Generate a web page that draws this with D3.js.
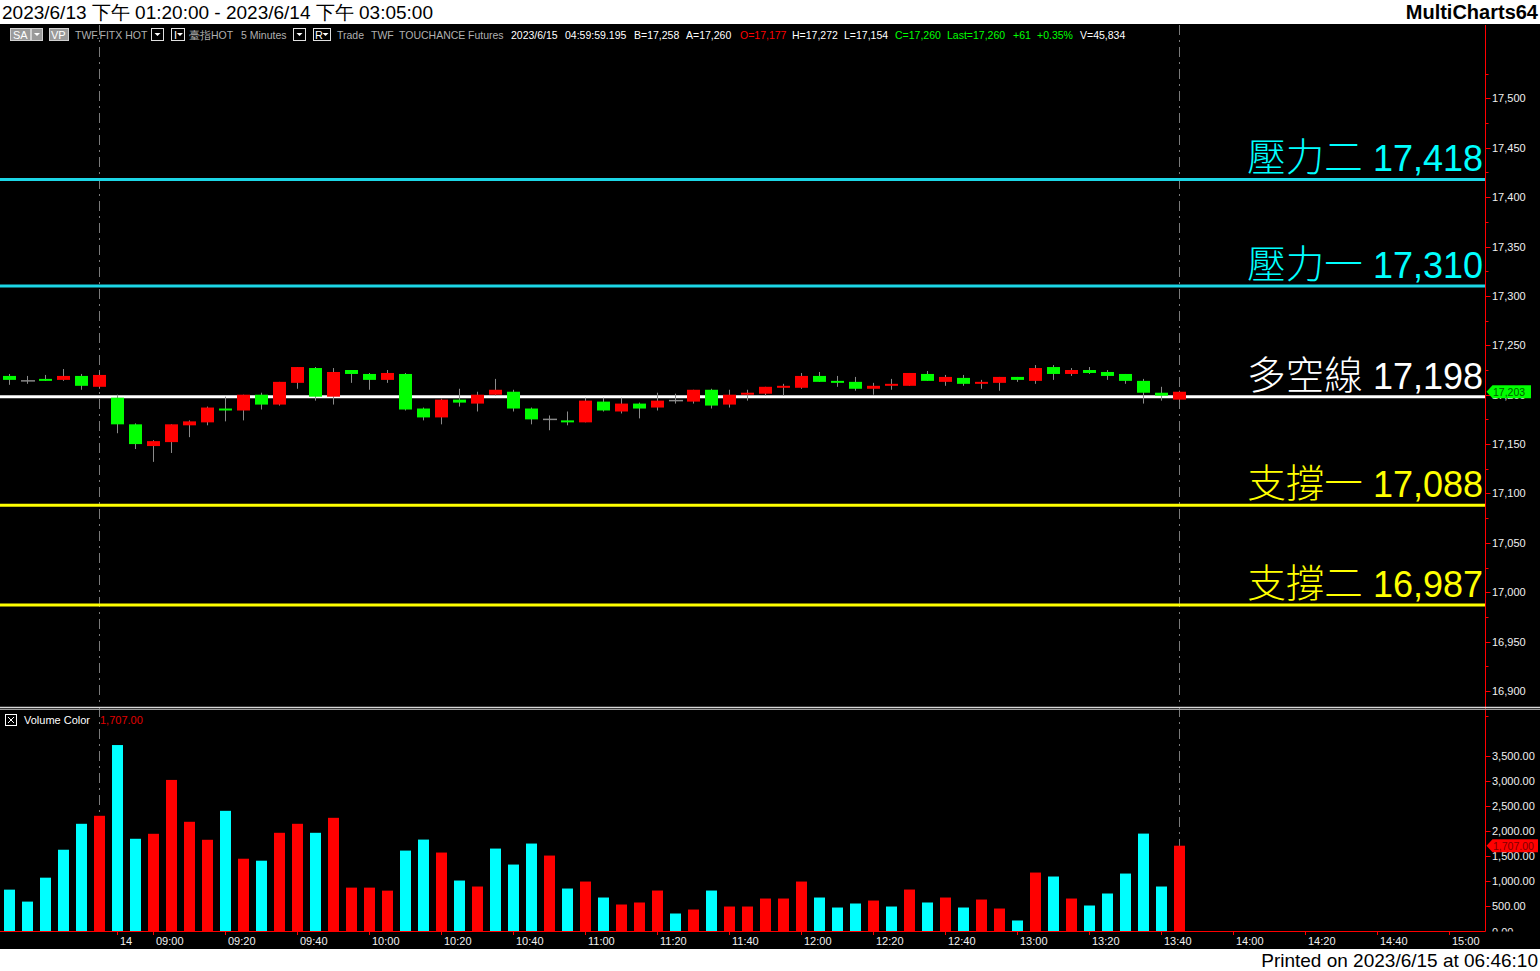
<!DOCTYPE html>
<html><head><meta charset="utf-8">
<script src="https://cdn.jsdelivr.net/npm/d3@7"></script>
<style>
html,body{margin:0;padding:0;background:#000;overflow:hidden}
svg{display:block}
text{font-family:"Liberation Sans",Arial,sans-serif}
</style></head>
<body>
<svg id="chart" width="1540" height="971"></svg>
<script>
// ---------- DATA ----------
const opens  = [17219,17214,17216,17215,17219,17208,17197,17170,17148,17152,17169,17172,17186,17184,17200,17190,17212,17227,17198,17225,17221,17215,
                17221,17186,17177,17195,17191,17200,17203,17186,17175,17174,17172,17193,17183,17191,17187,17194,17193,17205,17190,17200,17201,17207,
                17207,17219,17214,17213,17206,17209,17209,17221,17213,17217,17211,17212,17218,17214,17228,17221,17225,17223,17221,17214,17202,17195];
const highs  = [17221,17219,17220,17226,17221,17223,17200,17171,17154,17170,17174,17188,17198,17200,17202,17213,17228,17228,17227,17225,17222,17225,
                17222,17187,17196,17206,17203,17216,17205,17187,17179,17183,17197,17197,17197,17192,17202,17201,17205,17206,17205,17205,17208,17211,
                17222,17223,17219,17218,17212,17216,17222,17224,17220,17220,17215,17218,17218,17230,17230,17227,17228,17225,17221,17216,17208,17204];
const lows   = [17210,17211,17214,17214,17205,17206,17161,17145,17132,17141,17157,17169,17173,17174,17185,17189,17206,17194,17190,17212,17205,17212,
                17184,17174,17170,17188,17183,17199,17183,17170,17164,17169,17172,17183,17181,17176,17184,17191,17191,17186,17187,17194,17199,17199,
                17206,17213,17208,17204,17200,17205,17209,17214,17209,17209,17206,17204,17213,17211,17215,17219,17221,17215,17211,17191,17194,17193];
const closes = [17215,17214,17214,17219,17209,17220,17170,17150,17153,17170,17173,17187,17184,17200,17190,17213,17228,17198,17223,17221,17215,17222,
                17185,17177,17195,17192,17200,17205,17186,17175,17175,17172,17194,17184,17191,17186,17194,17194,17205,17189,17200,17202,17208,17209,
                17219,17213,17212,17206,17209,17211,17222,17214,17218,17211,17213,17218,17215,17227,17221,17225,17222,17219,17214,17202,17199,17203];
const volumes = [833,595,1071,1627,2143,2302,3710,1845,1944,3016,2183,1825,2401,1448,1409,1964,2143,1964,2262,873,873,813,
                 1610,1829,1571,1014,895,1650,1332,1750,1511,855,994,676,537,577,815,358,437,815,497,497,656,656,
                 994,676,477,557,616,497,835,577,676,477,636,457,219,1173,1094,656,517,756,1153,1948,895,1707];
// 1 = red volume bar, 0 = cyan volume bar
const volRed = [0,0,0,0,0,1,0,0,1,1,1,1,0,1,0,1,1,0,1,1,1,1,
                0,0,1,0,1,0,0,0,1,0,1,0,1,1,1,0,1,0,1,1,1,1,
                1,0,0,0,1,0,1,0,1,0,1,1,0,1,0,1,0,0,0,0,0,1];
const timeLabels = ["14","09:00","09:20","09:40","10:00","10:20","10:40","11:00","11:20","11:40","12:00","12:20","12:40","13:00","13:20","13:40","14:00","14:20","14:40","15:00"];
const timeBars   = [6,8,12,16,20,24,28,32,36,40,44,48,52,56,60,64,68,72,76,80];
const levelNames  = ["壓力二","壓力一","多空線","支撐一","支撐二"];
const levelValues = [17418,17310,17198,17088,16987];
const levelLineColors = ["#1cd6e6","#1cd6e6","#ffffff","#ffff00","#ffff00"];
const levelTextColors = ["#00ffff","#00ffff","#ffffff","#ffff00","#ffff00"];
const priceTicks  = d3.range(16900, 17501, 50);
const priceMinor  = d3.range(16875, 17526, 50);
const volumeTicks = d3.range(0, 3501, 500);
const sessionBars = [5, 65];
const lastPrice = 17203, lastVolume = 1707;

// ---------- LAYOUT ----------
const svg = d3.select("#chart");
const W = 1540, H = 971, axisX = 1485.5;
const x  = d3.scaleLinear().domain([0, 1]).range([9.5, 27.5]);
const yP = d3.scaleLinear().domain([16900, 17500]).range([691, 98.4]);
const yV = d3.scaleLinear().domain([0, 3500]).range([931.5, 755.6]);

const defs = svg.append("defs");
defs.append("clipPath").attr("id","cp").append("rect").attr("x",0).attr("y",45).attr("width",axisX).attr("height",661);
defs.append("clipPath").attr("id","cv").append("rect").attr("x",0).attr("y",711).attr("width",axisX).attr("height",220.5);
defs.append("clipPath").attr("id","cva").append("rect").attr("x",axisX).attr("y",711).attr("width",60).attr("height",220.5);

svg.append("rect").attr("width",W).attr("height",H).attr("fill","#000");

// title strip
svg.append("rect").attr("x",0).attr("y",0).attr("width",W).attr("height",24).attr("fill","#fff");
svg.append("text").attr("x",2).attr("y",19).attr("font-size",19).attr("fill","#000")
  .text("2023/6/13 下午 01:20:00 - 2023/6/14 下午 03:05:00");
svg.append("text").attr("x",1538).attr("y",19).attr("font-size",20).attr("font-weight","bold")
  .attr("text-anchor","end").attr("fill","#000").text("MultiCharts64");

// bottom strip
svg.append("rect").attr("x",0).attr("y",949).attr("width",W).attr("height",22).attr("fill","#fff");
svg.append("text").attr("x",1538).attr("y",967).attr("font-size",19).attr("text-anchor","end").attr("fill","#000")
  .text("Printed on 2023/6/15 at 06:46:10");

// header row
const hdr = svg.append("g").attr("font-size",11);
function box(x0, w, fill, stroke){ hdr.append("rect").attr("x",x0+0.5).attr("y",28.5).attr("width",w).attr("height",12).attr("fill",fill).attr("stroke",stroke); }
function arrow(cx){ hdr.append("path").attr("d",`M${cx-3},33 L${cx+3},33 L${cx},36 Z`).attr("fill","#fff"); }
box(10,20,"#9a9a9a","#d0d0d0"); hdr.append("text").attr("x",13).attr("y",39).attr("fill","#fff").text("SA");
box(31,11,"#9a9a9a","#d0d0d0"); arrow(37);
box(49,19,"#9a9a9a","#d0d0d0"); hdr.append("text").attr("x",51).attr("y",39).attr("fill","#fff").text("VP");
const hdrItems = [
  [75,"TWF.FITX HOT","#b0b0b0"],[189,"臺指HOT","#b0b0b0"],[241,"5 Minutes","#b0b0b0"],
  [337,"Trade","#b0b0b0"],[371,"TWF","#b0b0b0"],[399,"TOUCHANCE","#b0b0b0"],[468,"Futures","#b0b0b0"],
  [511,"2023/6/15","#fff"],[565,"04:59:59.195","#fff"],[634,"B=17,258","#fff"],[686,"A=17,260","#fff"],
  [740,"O=17,177","#ff0000"],[792,"H=17,272","#fff"],[844,"L=17,154","#fff"],
  [895,"C=17,260","#00ff00"],[947,"Last=17,260","#00ff00"],[1013,"+61","#00ff00"],[1037,"+0.35%","#00ff00"],
  [1080,"V=45,834","#fff"]];
hdrItems.forEach(d=>hdr.append("text").attr("x",d[0]).attr("y",39).attr("fill",d[2]).attr("font-size",10.5).text(d[1]));
box(151,12,"#000","#e0e0e0"); arrow(157.5);
box(171,13,"#000","#e0e0e0"); hdr.append("text").attr("x",174).attr("y",39).attr("fill","#fff").text("I"); arrow(180);
box(293,12,"#000","#e0e0e0"); arrow(299.5);
box(313,17,"#000","#e0e0e0"); hdr.append("text").attr("x",315).attr("y",39).attr("fill","#fff").text("R"); arrow(325.5);

// session dashed lines
svg.append("g").selectAll("line").data(sessionBars).join("line")
  .attr("x1",d=>Math.round(x(d))-0.5).attr("x2",d=>Math.round(x(d))-0.5).attr("y1",25).attr("y2",931)
  .attr("stroke","#7a7a7a").attr("stroke-dasharray","10,5,2,5");

// ---------- PRICE PANEL ----------
const pg = svg.append("g").attr("clip-path","url(#cp)");
pg.selectAll("line.lvl").data(levelValues).join("line").attr("class","lvl")
  .attr("x1",0).attr("x2",axisX).attr("y1",d=>yP(d)).attr("y2",d=>yP(d))
  .attr("stroke",(d,i)=>levelLineColors[i]).attr("stroke-width",3);
const idx = d3.range(opens.length);
pg.selectAll("line.wick").data(idx).join("line").attr("class","wick")
  .attr("x1",i=>Math.round(x(i))-0.5).attr("x2",i=>Math.round(x(i))-0.5)
  .attr("y1",i=>yP(highs[i])).attr("y2",i=>yP(lows[i]))
  .attr("stroke","#8a8a8a").attr("stroke-width",1);
pg.selectAll("rect.body").data(idx.filter(i=>opens[i]!==closes[i])).join("rect").attr("class","body")
  .attr("x",i=>Math.round(x(i))-7).attr("width",13)
  .attr("y",i=>yP(Math.max(opens[i],closes[i])))
  .attr("height",i=>Math.max(1.5, yP(Math.min(opens[i],closes[i]))-yP(Math.max(opens[i],closes[i]))))
  .attr("fill",i=>closes[i]>opens[i]?"#ff0000":"#00ff00");
pg.selectAll("line.doji").data(idx.filter(i=>opens[i]===closes[i])).join("line").attr("class","doji")
  .attr("x1",i=>Math.round(x(i))-7).attr("x2",i=>Math.round(x(i))+7)
  .attr("y1",i=>yP(opens[i])).attr("y2",i=>yP(opens[i]))
  .attr("stroke","#8a8a8a").attr("stroke-width",1.5);
// level labels
const lbl = svg.append("g");
levelValues.forEach((v,i)=>{
  const t = lbl.append("text").attr("x",1483).attr("y",yP(v)-8).attr("text-anchor","end")
    .attr("font-size",36).attr("fill",levelTextColors[i]);
  t.append("tspan").attr("font-family","'Noto Sans CJK TC','Noto Sans CJK SC',sans-serif")
    .attr("font-size",38.5).attr("font-weight",300).text(levelNames[i]);
  t.append("tspan").text(" " + d3.format(",")(v));
});

// price axis
svg.append("line").attr("x1",axisX).attr("x2",axisX).attr("y1",25).attr("y2",931.5).attr("stroke","#ff0000");
const pa = svg.append("g");
pa.selectAll("line.maj").data(priceTicks).join("line").attr("class","maj")
  .attr("x1",axisX).attr("x2",axisX+5).attr("y1",d=>Math.round(yP(d))+0.5).attr("y2",d=>Math.round(yP(d))+0.5).attr("stroke","#ff0000");
pa.selectAll("line.min").data(priceMinor).join("line").attr("class","min")
  .attr("x1",axisX).attr("x2",axisX+3).attr("y1",d=>Math.round(yP(d))+0.5).attr("y2",d=>Math.round(yP(d))+0.5).attr("stroke","#ff0000");
pa.selectAll("text").data(priceTicks).join("text")
  .attr("x",1492).attr("y",d=>yP(d)+4).attr("font-size",11).attr("fill","#f0f0f0").text(d=>d3.format(",")(d));
const yl = yP(lastPrice);
svg.append("path").attr("d",`M${axisX+1},${yl} L${axisX+7},${yl-6.5} L1531,${yl-6.5} L1531,${yl+6.5} L${axisX+7},${yl+6.5} Z`).attr("fill","#00ff00");
svg.append("text").attr("x",1493).attr("y",yl+4).attr("font-size",10.5).attr("fill","#006000").text(d3.format(",")(lastPrice));

// separator
svg.append("line").attr("x1",0).attr("x2",W).attr("y1",707.5).attr("y2",707.5).attr("stroke","#d8d8d8").attr("stroke-width",1.5);
svg.append("line").attr("x1",0).attr("x2",W).attr("y1",709.5).attr("y2",709.5).attr("stroke","#9a9a9a").attr("stroke-width",1);

// ---------- VOLUME PANEL ----------
const vg = svg.append("g").attr("clip-path","url(#cv)");
vg.selectAll("rect").data(idx).join("rect")
  .attr("x",i=>Math.round(x(i))-6).attr("width",11)
  .attr("y",i=>yV(volumes[i])).attr("height",i=>yV(0)-yV(volumes[i]))
  .attr("fill",i=>volRed[i]?"#ff0000":"#00ffff");
svg.append("rect").attr("x",5.5).attr("y",714.5).attr("width",11).attr("height",11).attr("fill","none").attr("stroke","#fff");
svg.append("path").attr("d","M8,717 L14,723 M14,717 L8,723").attr("stroke","#fff");
svg.append("text").attr("x",24).attr("y",724).attr("font-size",11).attr("fill","#fff").text("Volume Color");
svg.append("text").attr("x",100).attr("y",724).attr("font-size",11).attr("fill","#e00000").text(d3.format(",.2f")(lastVolume));
const va = svg.append("g").attr("clip-path","url(#cva)");
va.selectAll("line").data(volumeTicks).join("line")
  .attr("x1",axisX).attr("x2",axisX+5).attr("y1",d=>Math.round(yV(d))+0.5).attr("y2",d=>Math.round(yV(d))+0.5).attr("stroke","#ff0000");
va.selectAll("text").data(volumeTicks).join("text")
  .attr("x",1492).attr("y",d=>yV(d)+4).attr("font-size",11).attr("fill","#f0f0f0").text(d=>d3.format(",.2f")(d));
const yvl = yV(lastVolume);
svg.append("path").attr("d",`M${axisX+1},${yvl} L${axisX+7},${yvl-6.5} L1538,${yvl-6.5} L1538,${yvl+6.5} L${axisX+7},${yvl+6.5} Z`).attr("fill","#ff0000");
svg.append("text").attr("x",1493).attr("y",yvl+4).attr("font-size",10.5).attr("fill","#800000").text(d3.format(",.2f")(lastVolume));

// time axis
svg.append("line").attr("x1",0).attr("x2",axisX).attr("y1",931.5).attr("y2",931.5).attr("stroke","#ff0000");
const ta = svg.append("g");
ta.selectAll("line").data(timeBars).join("line")
  .attr("x1",d=>Math.round(x(d))-0.5).attr("x2",d=>Math.round(x(d))-0.5).attr("y1",931).attr("y2",935).attr("stroke","#ff0000");
ta.selectAll("text").data(timeBars).join("text")
  .attr("x",d=>x(d)+2.5).attr("y",945).attr("font-size",11).attr("fill","#f0f0f0").text((d,i)=>timeLabels[i]);
</script>
</body></html>
